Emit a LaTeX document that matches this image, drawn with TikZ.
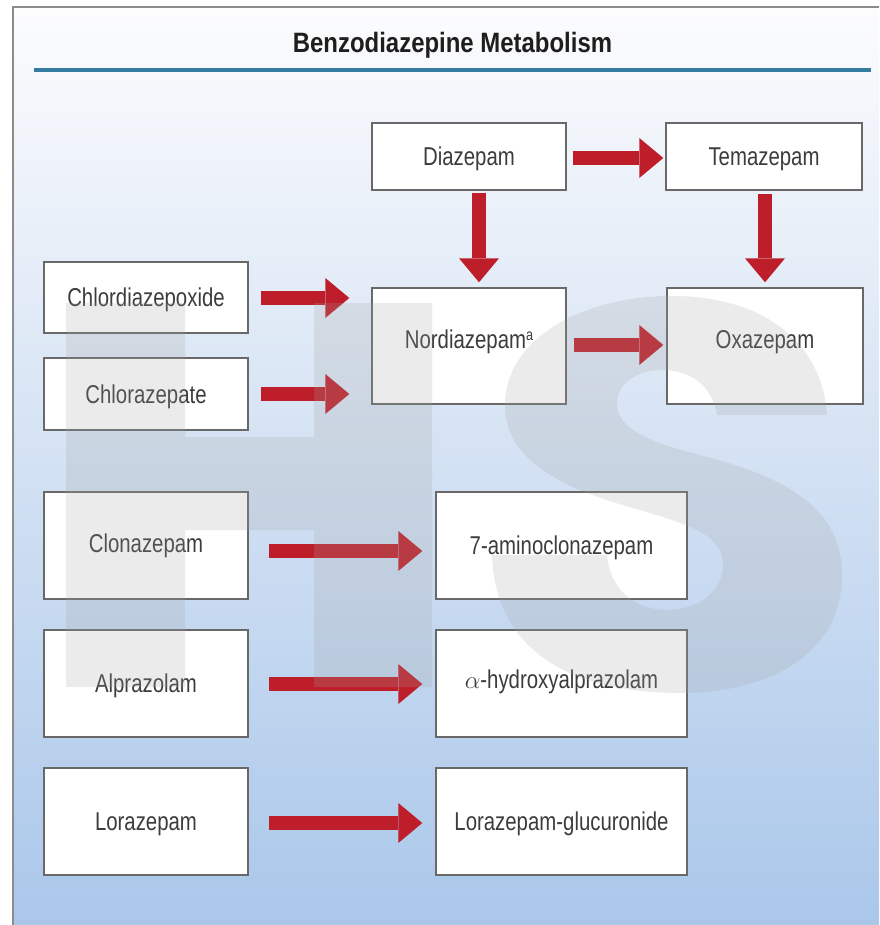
\documentclass[tikz,border=0pt]{standalone}
\usepackage{fontspec}
\newfontfamily\boxfont[FakeStretch=0.79]{Liberation Sans}
\newfontfamily\titlefont[FakeStretch=0.855]{Liberation Sans}
\usetikzlibrary{arrows.meta,calc}
\definecolor{arrowred}{RGB}{190,30,42}
\definecolor{boxgray}{RGB}{105,105,105}
\definecolor{txtgray}{RGB}{60,60,60}
\definecolor{titlecol}{RGB}{30,30,30}
\definecolor{ruleblue}{RGB}{52,125,160}
\definecolor{framegray}{RGB}{140,140,140}
\definecolor{bgtop}{RGB}{252,252,253}
\definecolor{bgmid}{RGB}{212,226,243}
\definecolor{bgbot}{RGB}{170,199,234}
\definecolor{wmgray}{RGB}{164,164,164}
\begin{document}
\begin{tikzpicture}[x=1pt,y=-1pt,
  box/.style={draw=boxgray, line width=1.4pt, fill=white, inner sep=0pt,
    text=txtgray, font=\boxfont\fontsize{25.8}{30}\selectfont,
    text height=18.5pt, text depth=0pt},
  smallbox/.style={box, minimum width=204pt},
  redarrow/.style={draw=arrowred, line width=13.5pt,
    -{Triangle[length=24pt,width=40pt,line width=0pt]}},
  wm/.style={fill=wmgray, fill opacity=0.22}
]
\useasboundingbox (0,0) rectangle (879,925);
\fill[white] (0,0) rectangle (879,925);
\shade[top color=bgtop, middle color=bgmid, bottom color=bgbot] (13,7) rectangle (879,925);
\draw[framegray, line width=1.5pt] (13,925) -- (13,7) -- (879,7);

% title and rule
\node[font=\titlefont\bfseries\fontsize{28}{32}\selectfont, text=titlecol,
  text height=20pt, text depth=0pt, inner sep=0pt] (title) at (452.5,42.3)
  {Benzodiazepine Metabolism};
\coordinate (ruleL) at (34,70);
\coordinate (ruleR) at (871,70);
\draw[ruleblue, line width=3.5pt] (ruleL) -- (ruleR);

% boxes
\node[box, minimum width=194pt, minimum height=67pt] (dia) at (469,156.5) {Diazepam};
\node[box, minimum width=196pt, minimum height=67pt] (tem) at (764,156.5) {Temazepam};
\node[box, minimum width=194pt, minimum height=116pt, text depth=13pt] (nor) at (469,346)
  {Nordiazepam{\fontsize{16}{16}\selectfont\raisebox{8pt}{a}}};
\node[box, minimum width=196pt, minimum height=116pt, text depth=13pt] (oxa) at (765,346) {Oxazepam};
\node[smallbox, minimum height=71pt] (chl) at (146,297.5) {Chlordiazepoxide};
\node[smallbox, minimum height=72pt] (clz) at (146,394) {Chlorazepate};
\node[smallbox, minimum height=107pt, text depth=4pt] (clon) at (146,545.5) {Clonazepam};
\node[box, minimum width=251pt, minimum height=107pt] (amino) at (561.5,545.5) {7-aminoclonazepam};
\node[smallbox, minimum height=107pt] (alp) at (146,683.5) {Alprazolam};
\node[box, minimum width=251pt, minimum height=107pt, text depth=9pt] (ahyd) at (561.5,683.5)
  {$\alpha$-hydroxyalprazolam};
\node[smallbox, minimum height=107pt] (lor) at (146,821.5) {Lorazepam};
\node[box, minimum width=251pt, minimum height=107pt] (lorg) at (561.5,821.5) {Lorazepam-glucuronide};

% arrows
\draw[redarrow] ($(dia.east)+(6,1.5)$) -- ($(tem.west)+(-2,1.5)$);
\draw[redarrow] ($(dia.south)+(10,2)$) -- ($(nor.north)+(10,-5)$);
\draw[redarrow] ($(tem.south)+(1,3)$) -- ($(oxa.north)+(0,-5)$);
\draw[redarrow] ($(chl.east)+(12,0.5)$) -- ($(nor.west |- chl.east)+(-22,0.5)$);
\draw[redarrow] ($(clz.east)+(12,0)$) -- ($(nor.west |- clz.east)+(-22,0)$);
\draw[redarrow] ($(nor.east)+(7,-1)$) -- ($(oxa.west)+(-3,-1)$);
\draw[redarrow] ($(clon.east)+(20,5.5)$) -- ($(amino.west)+(-13,5.5)$);
\draw[redarrow] ($(alp.east)+(20,0.5)$) -- ($(ahyd.west)+(-13,0.5)$);
\draw[redarrow] ($(lor.east)+(20,1.5)$) -- ($(lorg.west)+(-13,1.5)$);

% watermark
\fill[wm] (66,303) -- (185,303) -- (185,437) -- (314,437) -- (314,303) -- (432,303)
  -- (432,687) -- (314,687) -- (314,530) -- (185,530) -- (185,687) -- (66,687) -- cycle;
\fill[wm] (673,296) .. controls (760,296) and (822,340) .. (827,415)
  -- (717,415)
  .. controls (712,385) and (690,370) .. (662,370)
  .. controls (635,370) and (617,385) .. (617,403)
  .. controls (617,430) and (650,442) .. (700,455)
  .. controls (790,478) and (842,510) .. (842,575)
  .. controls (842,650) and (775,693) .. (680,693)
  .. controls (570,693) and (495,650) .. (492,555)
  -- (607,555)
  .. controls (610,590) and (635,610) .. (667,610)
  .. controls (700,610) and (723,590) .. (723,565)
  .. controls (723,535) and (690,525) .. (640,510)
  .. controls (560,488) and (505,460) .. (505,405)
  .. controls (505,340) and (580,296) .. (673,296) -- cycle;
\end{tikzpicture}
\end{document}
